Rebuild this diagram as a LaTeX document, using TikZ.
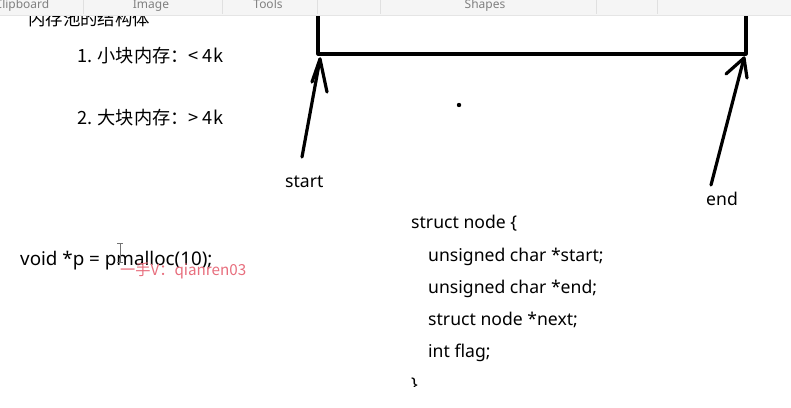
\documentclass[tikz,border=0pt]{standalone}
\usepackage{fontspec}
\setmainfont{Noto Sans}
\newfontfamily\cjk{Noto Sans CJK SC}
\begin{document}
\begin{tikzpicture}[x=1pt,y=-1pt,
  txt/.style={anchor=base west,inner sep=0pt,font=\fontsize{17.6}{20}\selectfont},
  cjktxt/.style={anchor=base west,inner sep=0pt,font=\cjk\fontsize{18.2}{20}\selectfont},
  tbtxt/.style={anchor=base,inner sep=0pt,text=black!50,font=\fontsize{12}{14}\selectfont},
  thick line/.style={line width=3.2pt,line cap=round,line join=round},
  sep/.style={draw=black!12,line width=0.8pt}]
\useasboundingbox (0,0) rectangle (791,407);
\fill[white] (0,0) rectangle (791,407);
% title (top cut off by toolbar)
\node[cjktxt,font=\cjk\fontsize{17.4}{20}\selectfont] (title) at (28,25) {内存池的结构体};
\node[cjktxt] (l1) at (77,62) {1. 小块内存：< 4k};
\node[cjktxt] (l2) at (77,124) {2. 大块内存：> 4k};
% rectangle
\coordinate (tl) at (318,12);
\coordinate (bl) at (318,54);
\coordinate (br) at (746,54);
\coordinate (tr) at (746,12);
\draw[thick line] (tl) -- (bl) -- (br) -- (tr);
\fill (459,105) circle (2.2);
% start arrow
\coordinate (sTail) at (302,157);
\coordinate (sTip) at (320,59);
\coordinate (sB1) at (312,82);
\coordinate (sB2) at (327,92);
\draw[thick line] (sTail) -- (sTip);
\draw[thick line] (sB1) -- (sTip) -- (sB2);
\node[txt] (start) at (285,187) {start};
% end arrow
\coordinate (eTail) at (711,185);
\coordinate (eTip) at (744,58);
\coordinate (eB1) at (726,74);
\coordinate (eB2) at (747,78);
\draw[thick line] (eTail) -- (eTip);
\draw[thick line] (eB1) -- (eTip) -- (eB2);
\node[txt] (end) at (706,205) {end};
% code
\node[txt,font=\fontsize{18.8}{20}\selectfont] (call) at (20,265) {void *p = pmalloc(10);};
\node[cjktxt,text={rgb,255:red,232;green,110;blue,125},font=\cjk\fontsize{15.2}{16}\selectfont] (wm) at (120,275) {一手V：qianren03};
\draw[black!55,line width=0.9pt] (120,243) -- (120,262);
\draw[black!55,line width=0.9pt] (117,243) -- (123,243);
\draw[black!55,line width=0.9pt] (117,262) -- (123,262);
\node[txt] (s0) at (411,228) {struct node \{};
\node[txt] (s1) at (428,261) {unsigned char *start;};
\node[txt] (s2) at (428,293) {unsigned char *end;};
\node[txt] (s3) at (428,325) {struct node *next;};
\node[txt] (s4) at (428,357) {int flag;};
\begin{scope}
\clip (400,376) rectangle (440,386);
\node[txt] (s5) at (411,390) {\}};
\end{scope}
% toolbar
\fill[black!4] (0,0) rectangle (791,15);
\draw[black!10,line width=0.8pt] (0,15) -- (791,15);
\foreach \x in {83,222,317,380,596,657} \draw[sep] (\x,0) -- (\x,14);
\node[tbtxt] (tb1) at (22,8) {Clipboard};
\node[tbtxt] (tb2) at (151,8) {Image};
\node[tbtxt] (tb3) at (268,8) {Tools};
\node[tbtxt] (tb4) at (485,8) {Shapes};
\end{tikzpicture}
\end{document}
